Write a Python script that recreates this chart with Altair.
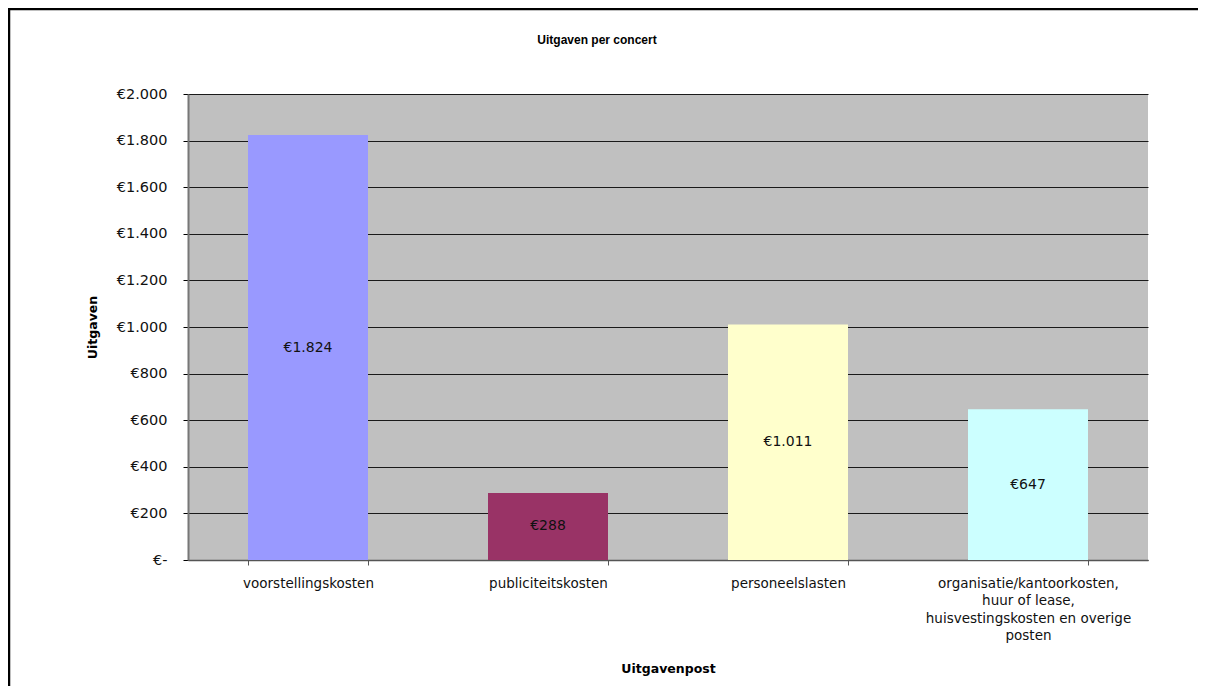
import altair as alt
import pandas as pd

# ---- data ----
categories = [
    "voorstellingskosten",
    "publiciteitskosten",
    "personeelslasten",
    "organisatie/kantoorkosten,|huur of lease,|huisvestingskosten en overige|posten",
]
values = [1824, 288, 1011, 647]
bar_colors = ["#9999FF", "#993366", "#FFFFCC", "#CCFFFF"]
y_ticks = [0, 200, 400, 600, 800, 1000, 1200, 1400, 1600, 1800, 2000]
chart_title = "Uitgaven per concert"

df = pd.DataFrame({"post": categories, "uitgaven": values})

W, H = 960, 466
PAD = {"left": 180, "top": 86, "right": 50, "bottom": 126}

euro_expr = "datum.value == 0 ? '€-' : '€' + replace(format(datum.value, ','), ',', '.')"

x_enc = alt.X(
    "post:N",
    sort=categories,
    scale=alt.Scale(paddingInner=0.5, paddingOuter=0.25),
    axis=alt.Axis(
        title="Uitgavenpost",
        labelAngle=0,
        labelExpr="split(datum.label, '|')",
        labelFont="DejaVu Sans",
        labelFontSize=13.5,
        labelColor="#111111",
        labelLineHeight=17.5,
        labelPadding=11,
        labelLimit=0,
        labelBaseline="top",
        tickBand="extent",
        tickSize=5,
        tickColor="#555555",
        domainColor="#555555",
        domainWidth=1.5,
        grid=False,
        titleFont="DejaVu Sans",
        titleFontSize=12.5,
        titleFontWeight="bold",
        titleColor="#000000",
        titleX=W / 2,
        titleY=108,
        titleBaseline="middle",
    ),
)

y_enc = alt.Y(
    "uitgaven:Q",
    scale=alt.Scale(domain=[0, 2000], nice=False),
    axis=alt.Axis(
        title="Uitgaven",
        values=y_ticks,
        labelExpr=euro_expr,
        labelFont="DejaVu Sans",
        labelFontSize=14.5,
        labelColor="#111111",
        labelPadding=16,
        tickSize=5,
        tickColor="#000000",
        domainColor="#777777",
        domainWidth=2,
        gridColor="#1a1a1a",
        gridWidth=1,
        titleFont="DejaVu Sans",
        titleFontSize=12.5,
        titleFontWeight="bold",
        titleColor="#000000",
        titleAngle=-90,
        titleX=-96,
        titleY=H / 2,
        titleAlign="center",
        titleBaseline="middle",
    ),
)

bars = alt.Chart(df).mark_bar().encode(
    x=x_enc,
    y=y_enc,
    color=alt.Color("post:N", sort=categories,
                    scale=alt.Scale(domain=categories, range=bar_colors),
                    legend=None),
)

texts = alt.Chart(df).transform_calculate(
    mid="datum.uitgaven / 2",
    lbl="'€' + replace(format(datum.uitgaven, ','), ',', '.')",
).mark_text(font="DejaVu Sans", fontSize=14, color="#111111",
            baseline="middle", align="center").encode(
    x=alt.X("post:N", sort=categories),
    y=alt.Y("mid:Q"),
    text="lbl:N",
)

frame_data = alt.Data(values=[{"t": chart_title}])

# chart title (placed as text so the frame lines do not push it away)
title_text = alt.Chart(frame_data).mark_text(
    font="Liberation Sans", fontSize=12, fontWeight="bold", color="#000000",
    align="center", baseline="middle",
).encode(x=alt.value(409), y=alt.value(-54), text="t:N")

# outer frame lines (left and top edge of the figure box)
left_line = alt.Chart(frame_data).mark_rule(color="#000000", strokeWidth=2.5).encode(
    x=alt.value(-179), y=alt.value(-86), y2=alt.value(H + PAD["bottom"])
)
top_line = alt.Chart(frame_data).mark_rule(color="#000000", strokeWidth=2.5).encode(
    x=alt.value(-180), x2=alt.value(W + PAD["right"]), y=alt.value(-85)
)

chart = alt.layer(bars, texts, title_text, left_line, top_line).properties(
    width=W,
    height=H,
    padding=PAD,
    autosize=alt.AutoSizeParams(type="none"),
    background="#FFFFFF",
).configure_view(
    fill="#C0C0C0",
    stroke=None,
)

chart.save("out.html", embed_options={"renderer": "svg", "actions": False})
